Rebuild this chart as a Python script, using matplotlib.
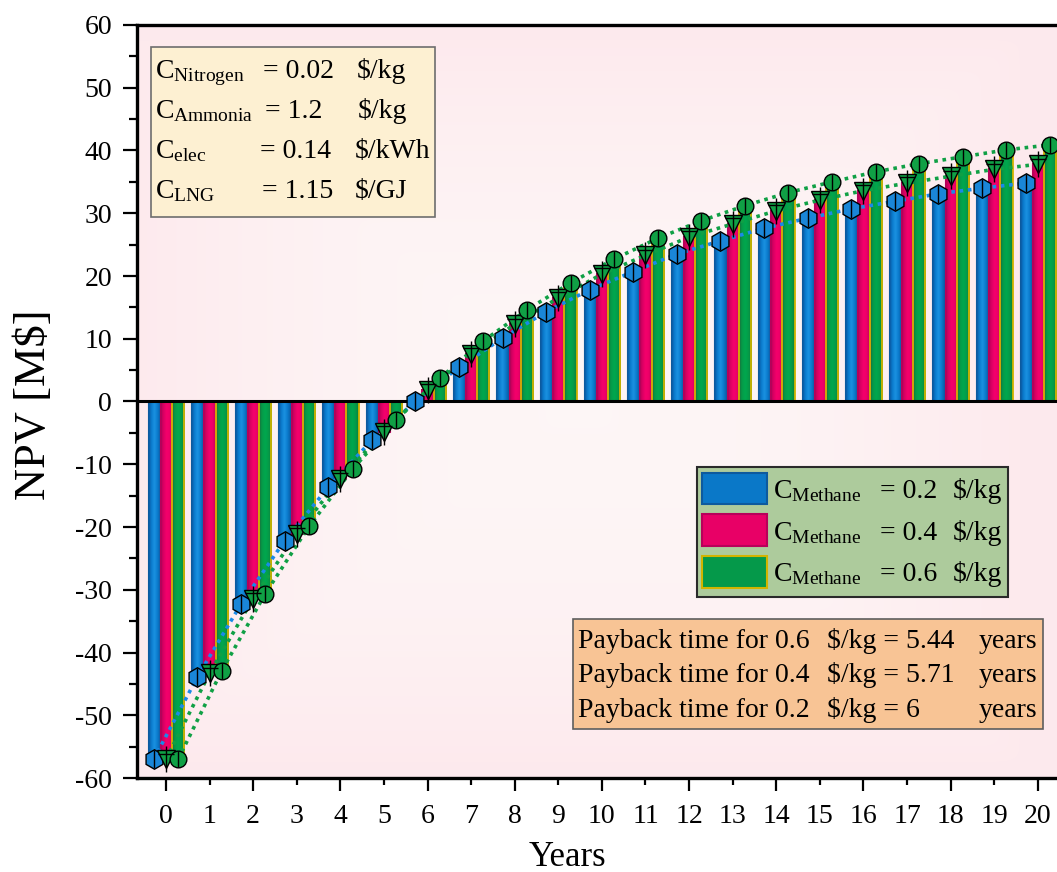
import numpy as np
import matplotlib
matplotlib.use('Agg')
import matplotlib.pyplot as plt
from matplotlib.colors import LinearSegmentedColormap
from matplotlib.patches import Rectangle

plt.rcParams['font.family'] = ['Liberation Serif', 'DejaVu Serif']
plt.rcParams['mathtext.fontset'] = 'custom'
plt.rcParams['mathtext.rm'] = 'Liberation Serif'
plt.rcParams['mathtext.it'] = 'Liberation Serif:italic'
plt.rcParams['mathtext.bf'] = 'Liberation Serif:bold'
plt.rcParams['axes.unicode_minus'] = False

# ---------------- data ----------------
years = list(range(21))
npv_02 = [-57.0, -43.9, -32.3, -22.2, -13.7, -6.2, 0.0, 5.45, 10.1, 14.3, 17.8,
          20.7, 23.5, 25.6, 27.6, 29.2, 30.7, 31.9, 33.1, 34.0, 34.8]
npv_04 = [-57.0, -43.3, -31.4, -21.1, -12.3, -4.8, 1.85, 7.6, 12.3, 16.5, 20.3,
          23.3, 26.2, 28.3, 30.4, 32.1, 33.6, 34.8, 35.9, 37.0, 37.8]
npv_06 = [-57.0, -42.9, -30.6, -19.9, -10.8, -2.9, 3.7, 9.65, 14.6, 18.9, 22.7,
          26.0, 28.8, 31.2, 33.3, 35.0, 36.6, 37.9, 39.0, 40.1, 40.9]
series_labels = ['0.2', '0.4', '0.6']
params_names = ['Nitrogen', 'Ammonia', 'elec', 'LNG']
params_values = ['= 0.02', '= 1.2', '= 0.14', '= 1.15']
params_units = ['$/kg', '$/kg', '$/kWh', '$/GJ']
payback_prices = ['0.6', '0.4', '0.2']
payback_years = ['5.44', '5.71', '6']

W, H = 1057, 872
fig = plt.figure(figsize=(W / 100, H / 100), dpi=100)
fig.patch.set_facecolor('white')


def P(x, y):
    return (x / W, 1 - y / H)


ax = fig.add_axes([137 / W, 1 - 778 / H, (W - 137) / W, (778 - 25) / H])
ax.set_facecolor('#fdebee')

# soft background
gy, gx = np.mgrid[0:1:60j, 0:1:60j]
d = np.maximum(np.abs(gx - 0.48) / 0.5, np.abs(gy - 0.5) / 0.5)
t = np.clip(d, 0, 1) ** 2
c_in = np.array([0.995, 0.965, 0.965])
c_out = np.array([0.992, 0.915, 0.93])
bg = c_in[None, None, :] * (1 - t[..., None]) + c_out[None, None, :] * t[..., None]
ax.imshow(bg, extent=[0, 1, 0, 1], transform=ax.transAxes, aspect='auto',
          zorder=0, interpolation='bicubic')

cm_blue = LinearSegmentedColormap.from_list('b', ['#0b4f95', '#0a7acc', '#1b92e2', '#0a7acc', '#0b5aa2'])
cm_red = LinearSegmentedColormap.from_list('r', ['#a8004f', '#d80062', '#f5006c', '#ee0068', '#c2005c'])
cm_green = LinearSegmentedColormap.from_list('g', ['#0b7a3a', '#069c4a', '#00a84e', '#069a48', '#0b7f3c'])
grad = np.linspace(0, 1, 64)[None, :]

bw = 0.28
offs = [-bw, 0.0, bw]
datasets = [npv_02, npv_04, npv_06]
cmaps = [cm_blue, cm_red, cm_green]
edges = ['#0d5a9e', '#b8005a', '#d2b400']
elw = [0.8, 0.8, 1.3]

for ds, off, cm, ec, lw in zip(datasets, offs, cmaps, edges, elw):
    for x, v in zip(years, ds):
        if v == 0:
            continue
        ax.imshow(grad, cmap=cm, extent=[x + off - bw / 2, x + off + bw / 2, min(0, v), max(0, v)],
                  aspect='auto', zorder=2, interpolation='bicubic')
    ax.bar(np.array(years) + off, ds, width=bw, facecolor='none', edgecolor=ec,
           linewidth=lw, zorder=2.5)

ax.axhline(0, color='black', lw=2.2, zorder=3.5)

xs = np.array(years, dtype=float)
dot = (0, (1, 1.3))
ax.plot(xs + offs[0], npv_02, color='#1a8ae8', lw=2.6, ls=dot, zorder=4)
ax.plot(xs + offs[1], npv_04, color='#10a045', lw=2.6, ls=dot, zorder=4)
ax.plot(xs + offs[2], npv_06, color='#10a045', lw=2.6, ls=dot, zorder=4)

ax.plot(xs + offs[0], npv_02, ls='none', marker='h', ms=14, mfc='#1a86d8', mec='black', mew=1.0, zorder=5)
ax.plot(xs + offs[1], npv_04, ls='none', marker='v', ms=13, mfc='#10a045', mec='black', mew=1.0, zorder=5)
ax.plot(xs + offs[2], npv_06, ls='none', marker='o', ms=12, mfc='#10a045', mec='black', mew=1.0, zorder=5)
ax.plot(xs + offs[0], npv_02, ls='none', marker='|', ms=13, mec='black', mew=1.0, zorder=6)
ax.plot(xs + offs[1], npv_04, ls='none', marker='|', ms=19, mec='black', mew=1.0, zorder=6)
ax.plot(xs + offs[1], np.array(npv_04) + 0.9, ls='none', marker='_', ms=12, mec='black', mew=1.0, zorder=6)
ax.plot(xs + offs[2], npv_06, ls='none', marker='|', ms=12, mec='black', mew=1.0, zorder=6)

ax.set_xlim(-0.665, 20.44)
ax.set_ylim(-60, 60)

ax.set_yticks(np.arange(-60, 61, 10))
ax.set_yticklabels([str(v) for v in range(-60, 61, 10)])
ax.set_yticks(np.arange(-55, 60, 10), minor=True)
ax.set_xticks(years[0::2])
ax.set_xticklabels([str(v) for v in years[0::2]])
ax.set_xticks(years[1::2], minor=True)
ax.set_xticklabels([str(v) for v in years[1::2]], minor=True)

ax.tick_params(axis='y', which='major', direction='out', length=10, width=1.6, pad=8, labelsize=20)
ax.tick_params(axis='y', which='minor', direction='out', length=6, width=1.6)
ax.tick_params(axis='x', which='major', direction='out', length=9.4, width=1.6, pad=9, labelsize=20)
ax.tick_params(axis='x', which='minor', direction='out', length=5, width=1.6, pad=13.4, labelsize=20)

for s in ['left', 'top', 'bottom']:
    ax.spines[s].set_linewidth(2.4)
ax.spines['right'].set_visible(False)

fig.text(*P(34, 405), 'NPV [M$]', rotation=90, ha='center', va='center', fontsize=32)
fig.text(*P(567, 866), 'Years', ha='center', va='baseline', fontsize=25)

FS = 20
# ---------- parameter box ----------
x0, y0 = P(151, 217)
x1, y1 = P(435, 47)
fig.patches.append(Rectangle((x0, y0), x1 - x0, y1 - y0, transform=fig.transFigure,
                             facecolor='#fdf0d2', edgecolor='#6e6e6e', lw=1.2, zorder=10))
rows_y = [78, 118, 158, 198]
eq_x = [263, 265, 260, 262]
un_x = [357, 358, 355, 355]
for nm, val, un, yy, ex, ux in zip(params_names, params_values, params_units, rows_y, eq_x, un_x):
    fig.text(*P(155, yy), r'C$_{\mathrm{%s}}$' % nm, fontsize=FS, va='baseline', ha='left', zorder=11)
    fig.text(*P(ex, yy), val, fontsize=FS, va='baseline', ha='left', zorder=11)
    fig.text(*P(ux, yy), un, fontsize=FS, va='baseline', ha='left', zorder=11)

# ---------- legend box ----------
x0, y0 = P(697, 597)
x1, y1 = P(1008, 467)
fig.patches.append(Rectangle((x0, y0), x1 - x0, y1 - y0, transform=fig.transFigure,
                             facecolor='#adcb9c', edgecolor='#2a2a2a', lw=1.5, zorder=10))
leg_face = ['#0a78c8', '#e80066', '#05994a']
leg_edge = ['#0d5a9e', '#b8005a', '#d2b400']
patch_rows = [(473, 504), (514, 546), (556, 588)]
text_base = [498, 540, 581]
for fc, ec, (ya, yb), tb, lab in zip(leg_face, leg_edge, patch_rows, text_base, series_labels):
    px0, py0 = P(702, yb)
    px1, py1 = P(767, ya)
    fig.patches.append(Rectangle((px0, py0), px1 - px0, py1 - py0, transform=fig.transFigure,
                                 facecolor=fc, edgecolor=ec, lw=1.5, zorder=11))
    fig.text(*P(773, tb), r'C$_{\mathrm{Methane}}$', fontsize=FS, va='baseline', ha='left', zorder=12)
    fig.text(*P(880, tb), '= %s' % lab, fontsize=FS, va='baseline', ha='left', zorder=12)
    fig.text(*P(953, tb), '$/kg', fontsize=FS, va='baseline', ha='left', zorder=12)

# ---------- payback box ----------
x0, y0 = P(573, 729)
x1, y1 = P(1043, 619)
fig.patches.append(Rectangle((x0, y0), x1 - x0, y1 - y0, transform=fig.transFigure,
                             facecolor='#f8c495', edgecolor='#5e5e5e', lw=1.2, zorder=10))
pb_base = [648, 682, 717]
for pr, yv, tb in zip(payback_prices, payback_years, pb_base):
    fig.text(*P(578, tb), 'Payback time for %s' % pr, fontsize=FS, va='baseline', ha='left', zorder=11)
    fig.text(*P(827, tb), '$/kg = %s' % yv, fontsize=FS, va='baseline', ha='left', zorder=11)
    fig.text(*P(979, tb), 'years', fontsize=FS, va='baseline', ha='left', zorder=11)

fig.savefig('out.png', dpi=100, facecolor='white')
